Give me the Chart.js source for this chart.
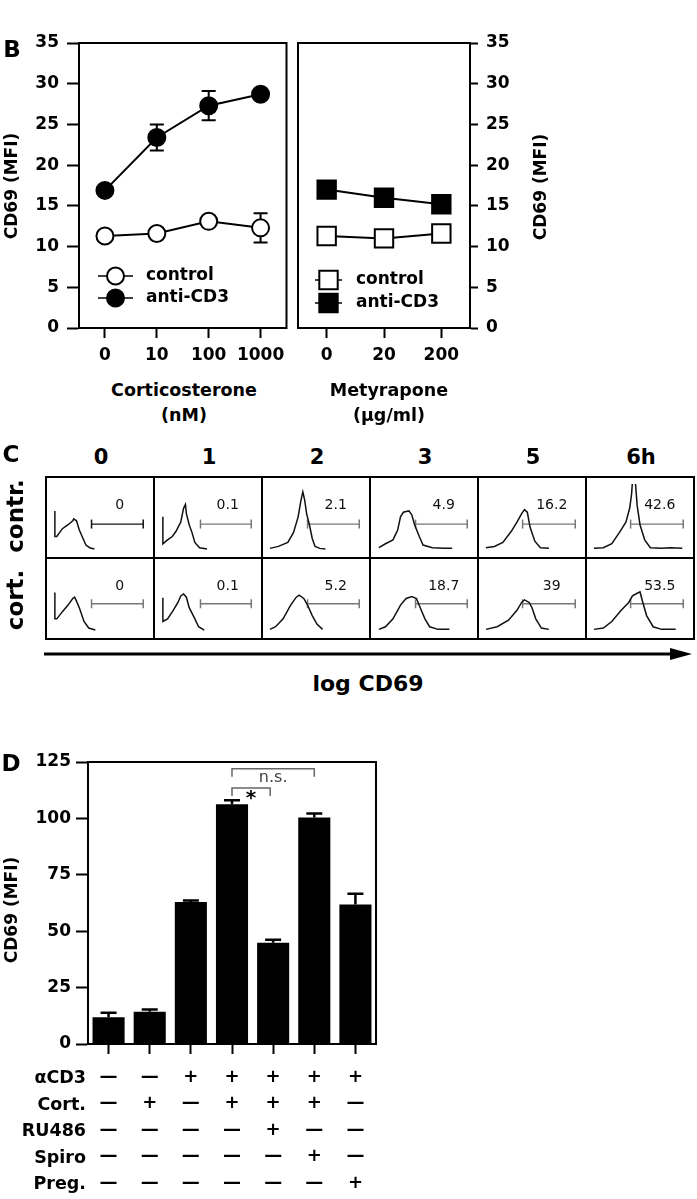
<!DOCTYPE html>
<html>
<head>
<meta charset="utf-8">
<script src="https://cdn.jsdelivr.net/npm/chart.js@4.4.1/dist/chart.umd.min.js"></script>
<style>
  html, body { margin: 0; padding: 0; background: #fff; }
  #page { position: relative; width: 697px; height: 1199px; overflow: hidden;
          font-family: "DejaVu Sans", sans-serif; color: #000; }
  #page canvas { position: absolute; }
  .t { position: absolute; white-space: nowrap; line-height: 1; }
  .ln { position: absolute; background: #000; }
</style>
</head>
<body>
<div id="page">
  <canvas id="b1" width="297" height="372" style="left:0px;top:0px"></canvas>
  <canvas id="b2" width="277" height="372" style="left:283px;top:0px"></canvas>
  <canvas id="d" width="380" height="499" style="left:0px;top:700px"></canvas>
  <svg style="position:absolute;left:0;top:640px" width="697" height="30">
    <line x1="44" y1="14" x2="676" y2="14" stroke="#000" stroke-width="3"/>
    <polygon points="670,8 692,14 670,20" fill="#000"/>
  </svg>
</div>
<script>
// ---- panel B data ----
const cortDoses = ['0', '10', '100', '1000'];
const cortControl = [11.3, 11.6, 13.1, 12.3];
const cortControlErr = [0.4, 0.4, 0.5, 1.8];
const cortAntiCD3 = [16.9, 23.4, 27.3, 28.7];
const cortAntiCD3Err = [0.5, 1.6, 1.8, 0.5];

const metyDoses = ['0', '20', '200'];
const metyControl = [11.3, 11.0, 11.6];
const metyControlErr = [0.4, 0.4, 0.4];
const metyAntiCD3 = [17.0, 16.0, 15.2];
const metyAntiCD3Err = [0.4, 0.4, 0.4];

// ---- panel C data (histograms, x = log CD69 channel %, y = count %) ----
const timeLabels = ['0', '1', '2', '3', '5', '6h'];
const ctrlPercent = ['0', '0.1', '2.1', '4.9', '16.2', '42.6'];
const cortPercent = ['0', '0.1', '5.2', '18.7', '39', '53.5'];
const ctrlGateStart = [41, 42, 41, 41, 40, 40];
const cortGateStart = [41, 42, 41, 41, 40, 40];
const ctrlHist = [
  [[2,59],[2,20],[4,20],[10,32],[16,38],[21,44],[22,47],[25,44],[28,30],[31,20],[35,7],[39,3],[44,1]],
  [[2,50],[2,9],[7,15],[12,20],[16,28],[21,42],[24,63],[26,69],[27,55],[30,38],[33,26],[36,11],[41,3],[49,1]],
  [[1,2],[10,5],[20,11],[26,26],[31,50],[34,75],[36,88],[38,75],[40,55],[43,38],[46,17],[49,5],[54,2],[60,1]],
  [[2,3],[9,9],[17,15],[22,30],[25,50],[28,57],[31,58],[34,59],[37,53],[40,38],[45,20],[49,7],[59,3],[71,2],[80,2]],
  [[1,3],[10,5],[19,11],[28,28],[34,42],[39,55],[42,61],[45,57],[48,34],[53,13],[59,3],[68,2]],
  [[1,2],[11,3],[20,9],[28,26],[35,42],[39,63],[41,84],[42,104],[45,104],[47,67],[50,38],[55,15],[61,3],[73,2],[82,3],[95,2]]
];
const cortHist = [
  [[2,58],[2,18],[4,18],[10,29],[16,39],[21,49],[23,51],[25,45],[28,35],[33,14],[38,4],[45,1]],
  [[2,50],[2,14],[7,18],[13,31],[18,43],[21,53],[24,56],[27,51],[30,35],[35,21],[40,6],[46,1]],
  [[1,2],[7,6],[15,18],[23,39],[29,51],[32,54],[37,49],[41,39],[46,23],[51,10],[57,2]],
  [[2,2],[9,6],[17,18],[25,39],[31,49],[37,52],[42,49],[46,35],[51,18],[56,6],[65,2],[77,2]],
  [[1,2],[13,6],[25,16],[34,31],[39,43],[42,47],[47,43],[50,35],[54,18],[60,4],[68,2]],
  [[1,2],[11,4],[20,14],[30,31],[38,43],[42,53],[47,57],[50,59],[53,43],[57,23],[64,6],[73,2],[88,2]]
];

// ---- panel D data ----
const dValues = [11.9, 14.3, 62.9, 106.3, 44.9, 100.4, 61.8];
const dErr = [1.9, 1.0, 0.7, 1.8, 1.3, 1.8, 4.8];
const condNames = ['\u03b1CD3', 'Cort.', 'RU486', 'Spiro', 'Preg.'];
const aCD3  = [0, 0, 1, 1, 1, 1, 1];
const cortT = [0, 1, 0, 1, 1, 1, 0];
const ru486 = [0, 0, 0, 0, 1, 0, 0];
const spiro = [0, 0, 0, 0, 0, 1, 0];
const preg  = [0, 0, 0, 0, 0, 0, 1];
const sigPairs = [[3, 5, 'n.s.'], [3, 4, '*']];
const sigLevels = [122, 113.5];

Chart.defaults.font.family = '"DejaVu Sans", sans-serif';
Chart.defaults.color = '#000';

const page = document.getElementById('page');
function addText(str, x, y, font, rot, align) {
  const el = document.createElement('div');
  el.className = 't';
  el.textContent = str;
  el.style.font = font + ' "DejaVu Sans", sans-serif';
  el.style.left = x + 'px';
  el.style.top = y + 'px';
  const tx = align === 'right' ? '-100%' : '-50%';
  el.style.transform = 'translate(' + tx + ',-50%)' + (rot ? ' rotate(' + rot + 'deg)' : '');
  page.appendChild(el);
}

// plugins
function drawErr(chart, o) {
  const ctx = chart.ctx, ys = chart.scales.y;
  ctx.save();
  ctx.strokeStyle = '#000';
  ctx.lineWidth = o.width || 2;
  chart.data.datasets.forEach((ds, i) => {
    if (!ds.err) return;
    chart.getDatasetMeta(i).data.forEach((el, j) => {
      const v = ds.data[j], e = ds.err[j];
      const hi = ys.getPixelForValue(v + e);
      const lo = ys.getPixelForValue(o.upperOnly ? v : v - e);
      ctx.beginPath();
      ctx.moveTo(el.x, lo); ctx.lineTo(el.x, hi);
      ctx.moveTo(el.x - o.cap / 2, hi); ctx.lineTo(el.x + o.cap / 2, hi);
      if (!o.upperOnly) { ctx.moveTo(el.x - o.cap / 2, lo); ctx.lineTo(el.x + o.cap / 2, lo); }
      ctx.stroke();
    });
  });
  ctx.restore();
}
const errorBars = {
  id: 'errorBars',
  beforeDatasetsDraw(chart, a, o) { if (!o.upperOnly) drawErr(chart, o); },
  afterDatasetsDraw(chart, a, o) { if (o.upperOnly) drawErr(chart, o); }
};
const boxFrame = {
  id: 'boxFrame',
  afterDraw(chart) {
    const { ctx, chartArea: c } = chart;
    ctx.save();
    ctx.strokeStyle = '#000';
    ctx.lineWidth = 2;
    ctx.strokeRect(c.left, c.top, c.right - c.left, c.bottom - c.top);
    ctx.restore();
  }
};
const insideLegend = {
  id: 'insideLegend',
  afterDraw(chart, a, o) {
    const ctx = chart.ctx;
    chart.data.datasets.forEach((ds, i) => {
      const y = o.y + i * o.gap, cx = o.x + o.len / 2;
      ctx.save();
      ctx.strokeStyle = '#000';
      ctx.lineWidth = 1.5;
      ctx.beginPath(); ctx.moveTo(o.x, y); ctx.lineTo(o.x + o.len, y); ctx.stroke();
      ctx.fillStyle = ds.pointBackgroundColor;
      ctx.lineWidth = ds.pointBorderWidth;
      ctx.beginPath();
      if (ds.pointStyle === 'rect') {
        const s = ds.pointRadius * Math.SQRT1_2;
        ctx.rect(cx - s, y - s, 2 * s, 2 * s);
      } else {
        ctx.arc(cx, y, ds.pointRadius, 0, Math.PI * 2);
      }
      ctx.fill(); ctx.stroke();
      ctx.fillStyle = '#000';
      ctx.font = 'bold 17px "DejaVu Sans"';
      ctx.textBaseline = 'middle';
      ctx.fillText(ds.label, o.textX, y);
      ctx.restore();
    });
  }
};

const boldTick = { size: 17, weight: 'bold' };
const tickGrid = (len) => ({ drawOnChartArea: false, offset: false, tickLength: len, tickWidth: 2, tickColor: '#000' });
const axisBorder = { color: '#000', width: 2 };

function lineSet(label, data, err, style, fill, radius) {
  return {
    label, data, err,
    borderColor: '#000', borderWidth: 2, tension: 0,
    pointStyle: style, pointRadius: radius, pointBorderWidth: 2,
    pointBackgroundColor: fill, pointBorderColor: '#000'
  };
}

// ---- B left: corticosterone ----
new Chart(document.getElementById('b1'), {
  type: 'line',
  data: {
    labels: cortDoses,
    datasets: [
      lineSet('control', cortControl, cortControlErr, 'circle', '#fff', 8.5),
      lineSet('anti-CD3', cortAntiCD3, cortAntiCD3Err, 'circle', '#000', 8.5)
    ]
  },
  options: {
    responsive: false, animation: false, events: [],
    layout: { padding: { top: 43, right: 5, left: 0, bottom: 0 } },
    scales: {
      x: { offset: true, grid: tickGrid(10), border: axisBorder,
           ticks: { font: boldTick, padding: 7, maxRotation: 0 },
           afterFit: s => { s.height = 44; } },
      y: { min: 0, max: 35, grid: tickGrid(12), border: axisBorder,
           ticks: { stepSize: 5, font: boldTick, padding: 8 },
           afterFit: s => { s.width = 79; } }
    },
    plugins: {
      legend: { display: false }, tooltip: { enabled: false },
      errorBars: { cap: 14 },
      insideLegend: { x: 98, y: 276, gap: 22, len: 35, textX: 146 }
    }
  },
  plugins: [errorBars, boxFrame, insideLegend]
});

// ---- B right: metyrapone ----
new Chart(document.getElementById('b2'), {
  type: 'line',
  data: {
    labels: metyDoses,
    datasets: [
      lineSet('control', metyControl, metyControlErr, 'rect', '#fff', 13),
      lineSet('anti-CD3', metyAntiCD3, metyAntiCD3Err, 'rect', '#000', 13)
    ]
  },
  options: {
    responsive: false, animation: false, events: [],
    layout: { padding: { top: 43, right: 0, left: 8, bottom: 0 } },
    scales: {
      x: { offset: true, grid: tickGrid(10), border: axisBorder,
           ticks: { font: boldTick, padding: 7, maxRotation: 0 },
           afterFit: s => { s.height = 44; } },
      y: { position: 'right', min: 0, max: 35, grid: tickGrid(8), border: axisBorder,
           ticks: { stepSize: 5, font: boldTick, padding: 8 },
           afterFit: s => { s.width = 90; } }
    },
    plugins: {
      legend: { display: false }, tooltip: { enabled: false },
      errorBars: { cap: 14 },
      insideLegend: { x: 32, y: 280, gap: 23, len: 27, textX: 73 }
    }
  },
  plugins: [errorBars, boxFrame, insideLegend]
});

addText('B', 12, 49, 'bold 23px');
addText('CD69 (MFI)', 11, 186, 'bold 17px', -90);
addText('CD69 (MFI)', 540, 187, 'bold 17px', -90);
addText('Corticosterone', 184, 390, 'bold 17.5px');
addText('(nM)', 184, 415, 'bold 17.5px');
addText('Metyrapone', 389, 390, 'bold 17.5px');
addText('(\u03bcg/ml)', 389, 415, 'bold 17.5px');

// ---- C: flow histograms ----
const gridLeft = 46, gridTop = 477, cellW = 108, cellH = 81;
const cellLabel = {
  id: 'cellLabel',
  afterDraw(chart, a, o) {
    const { ctx, scales: { x, y } } = chart;
    ctx.save();
    ctx.font = '14px "DejaVu Sans"';
    ctx.fillStyle = '#111';
    ctx.textAlign = 'center';
    ctx.textBaseline = 'middle';
    ctx.fillText(o.text, x.getPixelForValue(71), y.getPixelForValue(68));
    ctx.restore();
  }
};
[[ctrlHist, ctrlPercent, ctrlGateStart, 39], [cortHist, cortPercent, cortGateStart, 41]].forEach(([hists, pcts, gates, gy], r) => {
  hists.forEach((pts, c) => {
    const cv = document.createElement('canvas');
    cv.width = cellW - 2; cv.height = cellH - 2;
    cv.style.left = (gridLeft + c * cellW + 1) + 'px';
    cv.style.top = (gridTop + r * cellH + 1) + 'px';
    page.appendChild(cv);
    const gc = (r === 0 && c === 0) ? '#111' : '#777';
    new Chart(cv, {
      type: 'line',
      data: {
        datasets: [
          { data: pts, borderColor: '#111', borderWidth: 1.5, pointRadius: 0, tension: 0 },
          { data: [[gates[c], gy], [96, gy]], borderColor: gc, borderWidth: 1.3,
            pointStyle: 'line', rotation: 90, pointRadius: 4.5, pointBorderWidth: 1.5, pointBorderColor: gc }
        ]
      },
      options: {
        responsive: false, animation: false, events: [],
        layout: { padding: 0 },
        scales: {
          x: { type: 'linear', min: 0, max: 100, display: false },
          y: { min: -2, max: 100, display: false }
        },
        plugins: { legend: { display: false }, tooltip: { enabled: false }, cellLabel: { text: pcts[c] } }
      },
      plugins: [cellLabel]
    });
  });
});
for (let i = 0; i <= 6; i++) {
  const v = document.createElement('div');
  v.className = 'ln';
  v.style.left = (gridLeft + i * cellW - 1) + 'px';
  v.style.top = (gridTop - 1) + 'px';
  v.style.width = '2px';
  v.style.height = (2 * cellH + 2) + 'px';
  page.appendChild(v);
}
for (let j = 0; j <= 2; j++) {
  const h = document.createElement('div');
  h.className = 'ln';
  h.style.left = (gridLeft - 1) + 'px';
  h.style.top = (gridTop + j * cellH - 1) + 'px';
  h.style.width = (6 * cellW + 2) + 'px';
  h.style.height = '2px';
  page.appendChild(h);
}
addText('C', 11, 454, 'bold 23px');
timeLabels.forEach((t, i) => addText(t, gridLeft + i * cellW + cellW / 2 + 1, 457, 'bold 21px'));
addText('contr.', 15, 516, 'bold 23px', -90);
addText('cort.', 15, 600, 'bold 23px', -90);
addText('log CD69', 368, 683, 'bold 22px');

// ---- D: bar chart ----
const sign = v => (v ? '+' : '\u2014');
const dLabels = dValues.map((_, i) => [aCD3[i], cortT[i], ru486[i], spiro[i], preg[i]].map(sign));
const sigBrackets = {
  id: 'sigBrackets',
  afterDatasetsDraw(chart) {
    const { ctx, scales: { x, y } } = chart;
    ctx.save();
    sigPairs.forEach(([a, b, txt], k) => {
      const x1 = x.getPixelForValue(a), x2 = x.getPixelForValue(b) - (txt === '*' ? 3 : 0);
      const yy = y.getPixelForValue(sigLevels[k]);
      ctx.strokeStyle = '#666';
      ctx.lineWidth = 1.5;
      ctx.beginPath();
      ctx.moveTo(x1, yy + 8); ctx.lineTo(x1, yy); ctx.lineTo(x2, yy); ctx.lineTo(x2, yy + 8);
      ctx.stroke();
      ctx.fillStyle = txt === '*' ? '#000' : '#444';
      ctx.font = txt === '*' ? 'bold 20px "DejaVu Sans"' : '16px "DejaVu Sans"';
      ctx.textAlign = 'center';
      ctx.textBaseline = 'middle';
      ctx.fillText(txt, (x1 + x2) / 2, yy + (txt === '*' ? 11 : 9));
    });
    ctx.restore();
  }
};
new Chart(document.getElementById('d'), {
  type: 'bar',
  data: {
    labels: dLabels,
    datasets: [{ data: dValues, err: dErr, backgroundColor: '#000',
                 barPercentage: 0.78, categoryPercentage: 1 }]
  },
  options: {
    responsive: false, animation: false, events: [],
    layout: { padding: { top: 62, right: 4, left: 0, bottom: 0 } },
    scales: {
      x: { grid: tickGrid(10), border: axisBorder,
           ticks: { font: { size: 18, weight: 'bold', lineHeight: '26.5px' }, padding: 10,
                    maxRotation: 0, autoSkip: false },
           afterFit: s => { s.height = 155; } },
      y: { min: 0, max: 125, grid: tickGrid(12), border: axisBorder,
           ticks: { stepSize: 25, font: boldTick, padding: 5 },
           afterFit: s => { s.width = 88; } }
    },
    plugins: {
      legend: { display: false }, tooltip: { enabled: false },
      errorBars: { cap: 16, upperOnly: true, width: 2.5 }
    }
  },
  plugins: [errorBars, boxFrame, sigBrackets]
});
addText('D', 11, 763, 'bold 23px');
addText('CD69 (MFI)', 11, 910, 'bold 17px', -90);
condNames.forEach((n, i) => addText(n, 86, 1077 + i * 26.5, 'bold 17.5px', 0, 'right'));
</script>
</body>
</html>
